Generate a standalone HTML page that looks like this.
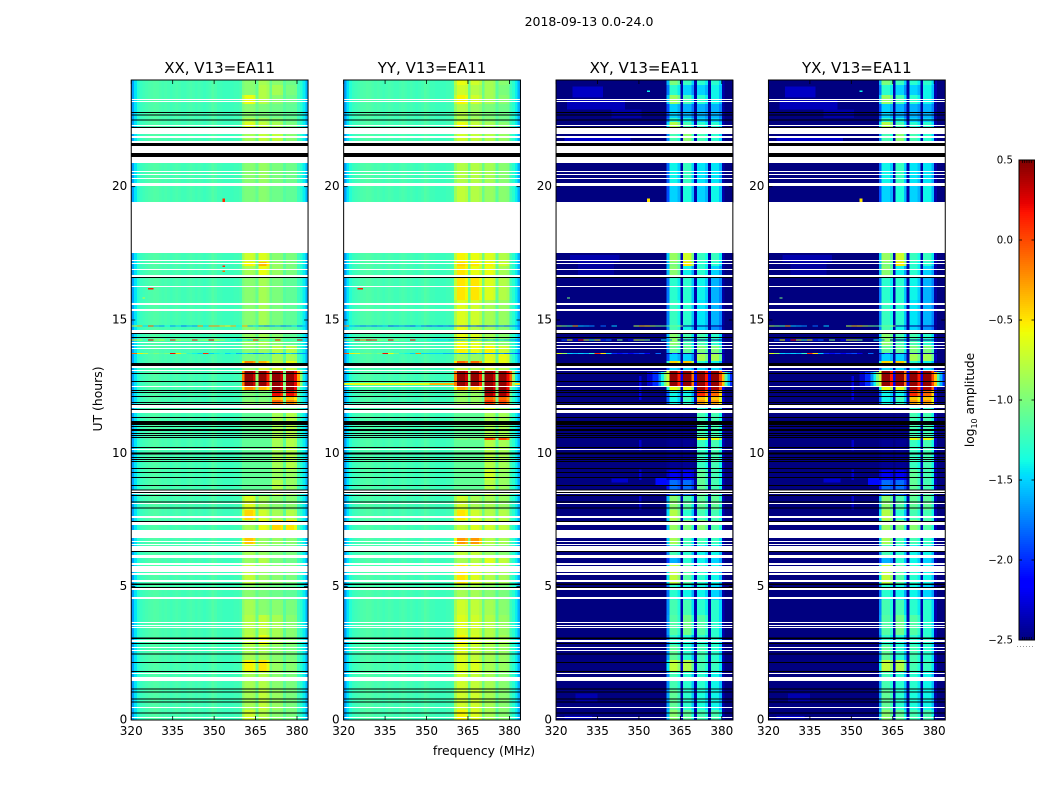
<!DOCTYPE html>
<html lang="en">
<head>
<meta charset="utf-8">
<title>2018-09-13 amplitude waterfall V13=EA11</title>
<style>
html,body{margin:0;padding:0;background:#fff;}
svg{display:block;font-family:"DejaVu Sans","Liberation Sans",sans-serif;fill:#000;}
</style>
</head>
<body>
<svg id="fig" xmlns="http://www.w3.org/2000/svg" width="1050" height="800" viewBox="0 0 1050 800">
  <text x="589" y="26" font-size="12.5" text-anchor="middle">2018-09-13 0.0-24.0</text>
  <text x="484" y="755" font-size="12.4" text-anchor="middle">frequency (MHz)</text>
  <text x="0" y="0" font-size="12.4" text-anchor="middle" transform="translate(102,399) rotate(-90)">UT (hours)</text>
  <text x="0" y="0" font-size="12.2" text-anchor="middle" transform="translate(974,400) rotate(-90)">log<tspan font-size="8" dy="3">10</tspan><tspan dy="-3"> amplitude</tspan></text>
</svg>
<script>
// ---- axis data ----
const xTicks = [320, 335, 350, 365, 380];
const yTicks = [0, 5, 10, 15, 20];
const colorbarTicks = [0.5, 0, -0.5, -1, -1.5, -2, -2.5];
const panelTitles = ['XX, V13=EA11', 'YY, V13=EA11', 'XY, V13=EA11', 'YX, V13=EA11'];

// ---- spectrum baseline (log10 amplitude per channel) ----
const parallelBase = [-1.65,-1.45,-1.32,-1.25,-1.22,-1.2,-1.18,-1.17,-1.15,-1.16,-1.18,-1.2,-1.18,-1.2,-1.22,-1.2,-1.18,-1.2,-1.22,-1.22,-1.2,-1.18,-1.2,-1.22,-1.2,-1.22,-1.24,-1.22,-1.2,-1.15,-1.18,-1.22,-1.22,-1.24,-1.24,-1.24,-1.24,-1.22,-1.22,-1.2,-1.1,-1.05,-1.05,-1.05,-1.1,-1.1,-1.05,-1.05,-1.05,-1.1,-1.1,-1.1,-1.1,-1.1,-1.15,-1.15,-1.1,-1.1,-1.1,-1.15,-1.25,-1.3,-1.42,-1.6];
const crossBase = [-2.5,-2.5,-2.5,-2.5,-2.5,-2.5,-2.5,-2.5,-2.5,-2.5,-2.5,-2.5,-2.5,-2.5,-2.5,-2.5,-2.5,-2.5,-2.5,-2.5,-2.5,-2.5,-2.5,-2.5,-2.5,-2.5,-2.5,-2.5,-2.5,-2.5,-2.5,-2.5,-2.5,-2.5,-2.5,-2.5,-2.5,-2.5,-2.5,-2.5,-2.5,-2.5,-2.5,-2.5,-2.5,-2.5,-2.5,-2.5,-2.5,-2.5,-2.5,-2.5,-2.5,-2.5,-2.5,-2.5,-2.5,-2.5,-2.5,-2.5,-2.5,-2.5,-2.5,-2.5];

// ---- sub-band channel membership and edge weight ----
const bandChannels = [[40,41,42,43,44,45],[46,47,48,49,50],[51,52,53,54,55],[56,57,58,59,60]];
const bandWeights = [[0.6,1,1,1,0.9,0.1],[1,1,1,0.8,0.1],[1,1,1,0.9,0.1],[1,1,1,0.85,0.1]];

// ---- time blocks: edges in UT hours, descending ----
const blockEdges = [24,23.81,23.44,23.1,22.58,22.43,22.2,20.89,20.03,19.43,17.51,17.18,17.03,16.61,15.75,14.81,14.48,14.06,13.76,13.46,13.28,13.13,12.53,12.38,12.15,12,11.85,11.51,10.61,10.5,9.38,9,8.44,7.88,7.5,7.13,6.56,6.19,5.81,5.06,4.5,3.94,3.19,2.81,2.25,1.8,1.13,0.38,0];

// ---- sub-band amplitude per time block ----
const xxBands = [[-0.95,-0.85,-0.95,-1.05],[-0.95,-0.8,-0.85,-1],[-0.6,-0.8,-0.95,-1.05],[-0.95,-1,-1.05,-1.1],[-0.8,-0.85,-0.95,-1.05],[-0.65,-0.75,-0.85,-1],[-0.85,-0.75,-0.75,-0.95],[-0.95,-0.9,-1,-1.05],[-1,-0.95,-1.05,-1.1],null,[-0.7,-0.65,-0.95,-1],[-0.55,-0.35,-0.9,-1],[-0.85,-0.6,-0.9,-1],[-0.95,-0.85,-1,-1.1],[-0.95,-0.85,-1,-1.1],[-0.95,-0.95,-1.05,-1.1],[-0.9,-0.85,-0.95,-1.1],[-0.95,-0.9,-0.8,-0.8],[-1,-1,-0.85,-0.85],[-0.2,-0.35,-0.75,-0.6],[-0.9,-0.7,-0.7,-0.75],[0.45,0.45,0.45,0.45],[-0.2,-0.35,0.45,0.45],[-1,-1,0.2,0.2],[-1,-1,-0.35,-0.4],[-0.95,-0.95,-0.1,-0.2],[-1,-1,-0.9,-1],[-1.1,-1.1,-0.85,-0.8],[-1.1,-1.1,-0.8,-0.8],[-1.1,-1.1,-0.85,-0.8],[-1.1,-1.1,-0.9,-0.9],[-1.1,-1.1,-0.8,-0.9],[-0.65,-0.85,-0.95,-0.95],[-0.45,-0.7,-0.85,-0.8],[-0.85,-0.6,-0.45,-0.5],[-0.4,-0.9,-0.9,-0.95],[-0.85,-0.9,-1,-1],[-0.9,-0.8,-1,-1.05],[-0.75,-0.9,-0.95,-1],[-0.95,-1,-1.05,-1.1],[-0.85,-0.95,-0.95,-1],[-0.8,-0.75,-0.85,-0.95],[-0.75,-0.6,-0.85,-0.95],[-0.85,-0.85,-0.95,-1],[-0.55,-0.5,-0.9,-0.95],[-0.85,-0.8,-0.95,-1],[-0.85,-0.75,-0.9,-1],[-0.7,-0.8,-0.95,-1]];
const yyBands = [[-0.6,-0.7,-0.85,-0.95],[-0.7,-0.8,-0.85,-1],[-0.55,-0.7,-0.85,-0.95],[-0.8,-0.9,-1,-1.05],[-0.8,-0.85,-0.95,-1.05],[-0.6,-0.75,-0.85,-0.95],[-0.7,-0.75,-0.8,-0.9],[-0.8,-0.8,-0.85,-0.95],[-0.75,-0.8,-0.9,-0.95],null,[-0.55,-0.6,-0.65,-0.8],[-0.45,-0.5,-0.55,-0.7],[-0.5,-0.6,-0.6,-0.85],[-0.5,-0.5,-0.65,-0.8],[-0.65,-0.7,-0.85,-0.9],[-0.6,-0.8,-0.85,-0.95],[-0.6,-0.65,-0.85,-0.95],[-0.55,-0.6,-0.55,-0.7],[-0.85,-0.9,-0.65,-0.6],[-0.1,-0.1,-0.6,-0.6],[-0.75,-0.8,-0.7,-0.8],[0.45,0.45,0.45,0.45],[-0.3,-0.4,0.45,0.45],[-0.9,-0.9,0.4,0.4],[-0.9,-0.9,-0.1,-0.1],[-0.9,-0.9,0.05,0],[-1,-1,-0.7,-0.9],[-1.1,-1.1,-0.85,-0.85],[-1,-1,0,0],[-1.1,-1.1,-0.8,-0.85],[-1.1,-1.1,-0.7,-0.9],[-1.1,-1.1,-0.8,-0.9],[-0.7,-0.85,-0.85,-0.9],[-0.5,-0.7,-0.8,-0.8],[-0.75,-0.65,-0.7,-0.75],[-0.25,-0.25,-0.8,-0.85],[-0.75,-0.75,-0.9,-0.95],[-0.85,-0.8,-0.65,-0.75],[-0.5,-0.65,-0.8,-0.85],[-0.85,-0.85,-0.95,-1],[-0.7,-0.75,-0.85,-0.95],[-0.65,-0.7,-0.8,-0.9],[-0.55,-0.65,-0.8,-0.85],[-0.65,-0.75,-0.85,-0.9],[-0.65,-0.65,-0.85,-0.9],[-0.7,-0.75,-0.85,-0.95],[-0.7,-0.7,-0.85,-0.95],[-0.55,-0.65,-0.85,-0.95]];
const crossBands = [[-1,-1.25,-1.3,-1.3],[-1.3,-1.5,-1.5,-1.4],[-0.9,-1.2,-1.3,-1.4],[-1.5,-1.6,-1.6,-1.6],[-1.3,-1.4,-1.5,-1.5],[-0.8,-1.2,-1.3,-1.3],[-1.2,-0.95,-1.2,-1.3],[-1.4,-1.25,-1.45,-1.45],[-1.5,-1.35,-1.5,-1.4],null,[-0.9,-0.7,-1.25,-1.25],[-1,-0.5,-1.3,-1.3],[-0.95,-1.4,-1.3,-1.5],[-1.3,-1.3,-1.4,-1.6],[-1.25,-1.3,-1.45,-1.6],[-1.2,-1.4,-1.5,-1.7],[-0.95,-1.2,-1.2,-1.3],[-1.1,-1.1,-1,-1],[-1.5,-1.5,-0.85,-0.85],[-0.45,-0.4,-1.3,-1.4],[-1.5,-1.5,-1.5,-1.5],[0.45,0.45,0.45,0.45],[-0.6,-0.6,0.4,0.4],[-1.4,-1.4,0.1,-0.1],[-1.4,-1.2,-0.4,-0.4],[-1.4,-1.3,-0.25,-0.25],[-2.3,-2.3,-1.3,-1.3],[-2.48,-2.48,-1.2,-1.2],[-2.48,-2.48,-0.6,-0.6],[-2.45,-2.45,-1.25,-1.2],[-2.2,-2.2,-1.1,-1.2],[-1.8,-1.8,-1.1,-1.2],[-0.95,-1.15,-1.1,-1.1],[-0.8,-1.3,-1.2,-1.2],[-0.9,-1,-0.95,-1.15],[-0.85,-1.2,-1.2,-1.25],[-1.2,-1.3,-1.4,-1.4],[-1.6,-1.3,-1.4,-1.5],[-0.75,-1.15,-1.3,-1.4],[-1.3,-1.4,-1.4,-1.5],[-1.2,-1.2,-1.3,-1.3],[-1.15,-1.05,-1.15,-1.3],[-1.3,-1.35,-1.3,-1.3],[-1.1,-1.3,-1.2,-1.3],[-0.75,-0.8,-1.2,-1.25],[-1.2,-1.3,-1.3,-1.4],[-1.1,-1.3,-1.35,-1.4],[-0.95,-1.1,-1.2,-1.2]];

// ---- flagged time ranges [start hour, end hour] ----
const whiteGaps = [[23.25,23.29],[23.18,23.21],[22.28,22.31],[21.98,22.2],[21.83,21.9],[21.64,21.71],[21.26,21.53],[20.89,21.11],[20.55,20.59],[20.44,20.48],[20.29,20.33],[20.03,20.14],[17.51,19.43],[17.21,17.25],[17.1,17.14],[16.88,16.91],[16.61,16.69],[16.24,16.28],[15.56,15.64],[15.34,15.41],[14.51,14.63],[14.14,14.18],[14.03,14.06],[13.91,13.95],[13.2,13.28],[13.09,13.13],[12.49,12.53],[11.7,11.81],[11.51,11.63],[10.13,10.16],[8.55,8.63],[8.48,8.51],[8.1,8.14],[7.58,7.65],[7.31,7.43],[6.83,7.13],[6.68,6.71],[6.56,6.6],[6.34,6.53],[6.08,6.19],[5.81,5.89],[5.55,5.78],[5.44,5.51],[5.18,5.25],[4.88,4.95],[4.54,4.61],[3.64,3.68],[3.53,3.56],[3.45,3.49],[2.93,3],[2.7,2.74],[2.59,2.63],[1.73,1.76],[1.46,1.61],[0.45,0.49],[0.08,0.11]];
const blackGaps = [[22.76,22.8],[22.67,22.71],[22.48,22.52],[22.2,22.23],[21.53,21.64],[21.11,21.26],[16.58,16.61],[14.47,14.51],[14.32,14.36],[13.31,13.39],[13.28,13.31],[12.98,13.02],[12.68,12.72],[12.34,12.38],[12.26,12.3],[12.11,12.15],[11.89,11.93],[11.81,11.85],[11.63,11.67],[11.32,11.36],[11.06,11.21],[10.99,11.03],[10.84,10.91],[10.72,10.76],[10.65,10.69],[10.58,10.61],[10.2,10.24],[9.99,10.03],[9.95,9.99],[9.82,9.86],[9.75,9.79],[9.67,9.71],[9.41,9.45],[9.26,9.3],[9.07,9.11],[8.77,8.81],[8.6,8.64],[8.51,8.55],[8.4,8.44],[8.16,8.2],[7.93,7.97],[7.43,7.46],[6.3,6.34],[5.06,5.12],[4.95,4.99],[3.04,3.1],[2.85,2.89],[2.46,2.5],[2.14,2.18],[1.8,1.84],[1.14,1.18],[1.03,1.07],[0.77,0.81],[0.66,0.7],[0.24,0.28]];

// ---- single noisy integrations (values per pair of channels) ----
const noiseHours = [14.79, 14.27, 13.76];
const xxNoise = [
  [-0.6,-0.3,-1.5,0,-1.6,-1.7,-1.4,-1.7,-1.5,-1.8,-1.6,-1.7,-0.2,-1.5,-0.2,-0.2,-0.4,-0.5,-0.3,-1.4,-0.3,-1.6,-1.5,-1.7,-1.8,-1.7,-1.6,-1.8,-1.7,-1.5,-1.8,-1.6],
  [-0.5,-0.8,-1.2,0.2,-0.9,-0.7,-1.1,0.1,-0.8,-0.9,-1,0.1,-0.9,-0.8,0.2,-0.7,-0.9,-1.2,-1.4,-1.5,-1.4,-1.5,0.1,-1.3,-1.2,-1.3,0.1,-1.2,-1.3,-1.2,0.2,-1.5],
  [-0.1,-0.5,-0.8,-1.1,-1,-1.1,-1,0.2,-0.5,-1,-1.3,-1.4,-1.5,0.1,-1.5,-1.4,-1.3,-1.5,-1.4,-1.6,-1.5,-1.6,-1.7,-1.7,-1.6,-1.7,-1.6,-1.7,-1.5,-1.6,-1.7,-1.7]
];
const yyNoise = [
  [-0.2,-1.6,-1.7,-1.8,-1.7,-1.8,-1.7,-1.6,-1.9,-1.8,-1.7,-1.8,-1.9,-1.6,-1.8,-1.9,-1.8,-1.9,-1.8,-1.9,-1.9,-2,-2,-1.9,-2,-2,-1.9,-1.9,-1.8,-1.9,-1.8,-1.8],
  [-0.8,-1,0.2,-0.2,0.2,0.1,-0.9,-1,0.2,-0.9,-1.1,-1.2,0.2,-1.2,-1.3,-1.4,-1.5,-1.5,-1.5,-1.6,-1.6,-1.6,-1.5,-1.6,-1.5,-1.6,-1.5,-1.6,-1.5,-1.6,-1.7,-1.8],
  [0,-0.5,-0.7,-1,-1,-1.1,-1,0.2,-0.6,-1,-1.3,-1.4,-1.5,-0.2,-1.5,-1.5,-1.5,-1.5,-1.6,-1.6,-1.6,-1.7,-1.7,-1.7,-1.6,-1.7,-1.7,-1.7,-1.7,-1.8,-1.8,-1.9]
];
const crossNoise = [
  [-0.8,-1,-1.2,-0.3,-1.5,-1.6,-1.7,-2.5,-1.8,-2.5,-1.5,-2.5,-2.5,-2.5,-0.8,-0.4,-0.5,-0.8,-1,-1.1,-1.1,-1.1,-0.9,-2.5,-2.5,-2.5,-2.5,-2.5,-2.5,-2.5,-2.5,-2.5],
  [-2.5,-1.9,-0.6,-2.2,0.2,-0.7,-1.2,-0.6,-2,-1.8,-2.5,-1,-2.5,-2.2,-0.7,-0.8,-1,-2.5,-2.5,-1.4,-1.8,-0.9,-2.5,-2.5,-2.5,-2.5,-2.5,-2.5,-2.5,-2.5,-2.5,-2.5],
  [-0.6,-0.9,-1.5,-1.6,-1.5,-1.6,-1.3,0.1,-0.5,-1.5,-2,-2.1,-2,-2.2,-2,-1.9,-2.2,-2.5,-1.8,-2.5,-2.5,-2,-2.5,-2.5,-2.5,-2.5,-2.5,-2.5,-2.5,-2.5,-2.5,-2.5]
];

// ---- localised features [top hour, bottom hour, first channel, last channel, value] ----
const xxPatches = [[19.55,19.4,33,33,0.1],[17.05,16.98,33,33,0.1],[16.85,16.8,33,33,-0.1],[16.2,16.14,6,7,0.15],[15.85,15.8,4,4,-0.7],[13.13,12.53,60,60,-0.3],[13.13,12.53,61,61,-0.95]];
const yyPatches = [[12.64,12.56,0,30,-0.62],[12.64,12.56,31,39,-0.35],[12.64,12.56,60,63,-0.5],[16.2,16.14,5,6,0.15],[13.13,12.53,60,60,-0.1],[13.13,12.53,61,61,-0.9]];
const crossPatches = [[23.75,23.35,6,16,-2.32],[23.25,22.9,4,24,-2.35],[22.9,22.58,20,30,-2.4],[21.9,21.71,3,26,-2.3],[17.44,17.18,5,22,-2.38],[17.18,16.69,8,20,-2.42],[15.85,15.8,4,4,-1],[19.55,19.4,33,33,-0.5],[23.6,23.55,33,33,-1.4],[12.9,12,30,30,-2.25],[10.5,10.1,30,30,-2.3],[9.4,9,30,30,-2.3],[8.4,7.9,30,30,-2.3],[13.05,12.53,33,34,-2.3],[13.05,12.53,35,36,-2],[13.05,12.53,37,37,-1.7],[13.05,12.53,38,38,-1.4],[13.05,12.53,39,39,-1],[13.05,12.53,60,60,-0.4],[13.05,12.53,61,61,-1.2],[13.05,12.53,62,62,-1.6],[13.05,12.53,63,63,-2],[9.08,8.78,36,39,-2.1],[9.05,8.9,20,25,-2.3],[1,0.7,7,14,-2.38],[0.15,0.05,3,12,-2.3]];

// ---- layout and scales ----
const SVGNS = 'http://www.w3.org/2000/svg';
const fig = document.getElementById('fig');
const PANEL_W = 176.8, PANEL_TOP = 80, PANEL_H = 640, N_CHAN = 64, F0 = 320, HOURS = 24;
const panelLefts = [131.25, 343.65, 556.05, 768.45];
const VMIN = -2.5, VMAX = 0.5;
const CB_X = 1019, CB_W = 15.5, CB_TOP = 160, CB_H = 480;

function xScale(left, freq) { return left + (freq - F0) * PANEL_W / N_CHAN; }
function yScale(hour) { return PANEL_TOP + PANEL_H - hour * PANEL_H / HOURS; }
function cbScale(v) { return CB_TOP + (VMAX - v) * CB_H / (VMAX - VMIN); }

function ramp(t, pts) {
  for (let i = 1; i < pts.length; i++) {
    if (t <= pts[i][0]) {
      const a = pts[i - 1], b = pts[i];
      return a[1] + (b[1] - a[1]) * (t - a[0]) / (b[0] - a[0]);
    }
  }
  return pts[pts.length - 1][1];
}
const jetR = [[0,0],[0.35,0],[0.66,1],[0.89,1],[1,0.5]];
const jetG = [[0,0],[0.125,0],[0.375,1],[0.64,1],[0.91,0],[1,0]];
const jetB = [[0,0.5],[0.11,1],[0.34,1],[0.65,0],[1,0]];
function jet(v) {
  const t = Math.max(0, Math.min(1, (v - VMIN) / (VMAX - VMIN)));
  return 'rgb(' + Math.round(255 * ramp(t, jetR)) + ',' + Math.round(255 * ramp(t, jetG)) + ',' + Math.round(255 * ramp(t, jetB)) + ')';
}

function mk(tag, attrs, parent) {
  const el = document.createElementNS(SVGNS, tag);
  for (const k in attrs) el.setAttribute(k, attrs[k]);
  parent.appendChild(el);
  return el;
}

function spectrum(base, bandVals) {
  const out = base.slice();
  bandChannels.forEach(function (chs, b) {
    chs.forEach(function (c, i) {
      out[c] = base[c] + bandWeights[b][i] * (bandVals[b] - base[c]);
    });
  });
  return out;
}

const panelBands = [xxBands, yyBands, crossBands, crossBands];
const panelBases = [parallelBase, parallelBase, crossBase, crossBase];
const panelNoise = [xxNoise, yyNoise, crossNoise, crossNoise];
const panelPatches = [xxPatches, yyPatches, crossPatches, crossPatches];
const panelKeys = ['xx', 'yy', 'xy', 'yx'];

panelTitles.forEach(function (title, p) {
  const left = panelLefts[p], right = left + PANEL_W, bottom = PANEL_TOP + PANEL_H;
  const cellW = PANEL_W / N_CHAN;

  const g = mk('g', {}, fig);
  
  

  const cells = mk('g', { 'shape-rendering': 'crispEdges' }, g);
  
  

  // block cells
  panelBands[p].forEach(function (vals, i) {
    if (!vals) return;
    const spec = spectrum(panelBases[p], vals);
    const y0 = yScale(blockEdges[i]), y1 = yScale(blockEdges[i + 1]);
    spec.forEach(function (v, c) {
      const r = mk('rect', { x: xScale(left, F0 + c), y: y0, width: cellW + 0.4, height: y1 - y0 + 0.4, fill: jet(v) }, cells);
      
      
    });
  });

  // localised features
  panelPatches[p].forEach(function (q) {
    const y0 = yScale(q[0]), y1 = yScale(q[1]);
    const r = mk('rect', { x: xScale(left, F0 + q[2]), y: y0, width: (q[3] - q[2] + 1) * cellW, height: Math.max(1, y1 - y0), fill: jet(q[4]) }, cells);
    
    
  });

  // noisy integrations
  panelNoise[p].forEach(function (row, i) {
    row.forEach(function (v, k) {
      const r = mk('rect', { x: xScale(left, F0 + 2 * k), y: yScale(noiseHours[i]), width: 2 * cellW, height: 1, fill: jet(v) }, cells);
      
      
    });
  });

  // flagged data
  whiteGaps.forEach(function (w) {
    const r = mk('rect', { x: left, y: yScale(w[1]), width: PANEL_W, height: yScale(w[0]) - yScale(w[1]), fill: '#fff' }, cells);
    
    
  });
  blackGaps.forEach(function (w) {
    const r = mk('rect', { x: left, y: yScale(w[1]), width: PANEL_W, height: yScale(w[0]) - yScale(w[1]), fill: '#000' }, cells);
    
    
  });

  // frame
  const frame = mk('rect', { x: left, y: PANEL_TOP, width: PANEL_W, height: PANEL_H, fill: 'none', stroke: '#000', 'stroke-width': 1 }, g);
  
  

  // x ticks
  xTicks.forEach(function (f) {
    const x = xScale(left, f);
    const t1 = mk('line', { x1: x, x2: x, y1: bottom, y2: bottom - 4, stroke: '#000', 'stroke-width': 0.8 }, g);
    
    
    const t2 = mk('line', { x1: x, x2: x, y1: PANEL_TOP, y2: PANEL_TOP + 4, stroke: '#000', 'stroke-width': 0.8 }, g);
    
    
    const lab = mk('text', { x: x, y: bottom + 15, 'font-size': 12, 'text-anchor': 'middle' }, g);
    
    
    lab.textContent = String(f);
  });

  // y ticks
  yTicks.forEach(function (h) {
    const y = yScale(h);
    const t1 = mk('line', { x1: left, x2: left + 4, y1: y, y2: y, stroke: '#000', 'stroke-width': 0.8 }, g);
    
    
    const t2 = mk('line', { x1: right, x2: right - 4, y1: y, y2: y, stroke: '#000', 'stroke-width': 0.8 }, g);
    
    
    const lab = mk('text', { x: left - 4, y: y + 3.5, 'font-size': 12, 'text-anchor': 'end' }, g);
    
    
    lab.textContent = String(h);
  });

  const ttl = mk('text', { x: left + PANEL_W / 2, y: 73, 'font-size': 15, 'text-anchor': 'middle' }, g);
  
  
  ttl.textContent = title;
});

// ---- colorbar ----
const cb = mk('g', {}, fig);


const cbRamp = mk('g', { 'shape-rendering': 'crispEdges' }, cb);


for (let i = 0; i < 240; i++) {
  const v = VMAX - (i + 0.5) * (VMAX - VMIN) / 240;
  const r = mk('rect', { x: CB_X, y: CB_TOP + i * 2, width: CB_W, height: 2.4, fill: jet(v) }, cbRamp);
  
  
}
const cbFrame = mk('rect', { x: CB_X, y: CB_TOP, width: CB_W, height: CB_H, fill: 'none', stroke: '#000', 'stroke-width': 1 }, cb);


colorbarTicks.forEach(function (v) {
  const y = cbScale(v);
  const t1 = mk('line', { x1: CB_X, x2: CB_X + 3, y1: y, y2: y, stroke: '#000', 'stroke-width': 0.8 }, cb);
  
  
  const t2 = mk('line', { x1: CB_X + CB_W, x2: CB_X + CB_W - 3, y1: y, y2: y, stroke: '#000', 'stroke-width': 0.8 }, cb);
  
  
  const lab = mk('text', { x: CB_X - 6, y: y + 3.5, 'font-size': 10.2, 'text-anchor': 'end' }, cb);
  
  
  lab.textContent = v.toFixed(1).replace('-', '\u2212');
});
for (let i = 0; i < 5; i++) {
  const x = CB_X + 3.5 + i * 2.2;
  const a = mk('line', { x1: x, x2: x, y1: CB_TOP, y2: CB_TOP + 3, stroke: '#000', 'stroke-width': 0.7 }, cb);
  
  
  const b = mk('line', { x1: x, x2: x, y1: CB_TOP + CB_H, y2: CB_TOP + CB_H - 3, stroke: '#000', 'stroke-width': 0.7 }, cb);
  
  
}
const dots = mk('line', { x1: 1017, x2: 1035, y1: 646.5, y2: 646.5, stroke: '#999', 'stroke-width': 1, 'stroke-dasharray': '1 2' }, cb);


</script>
</body>
</html>
